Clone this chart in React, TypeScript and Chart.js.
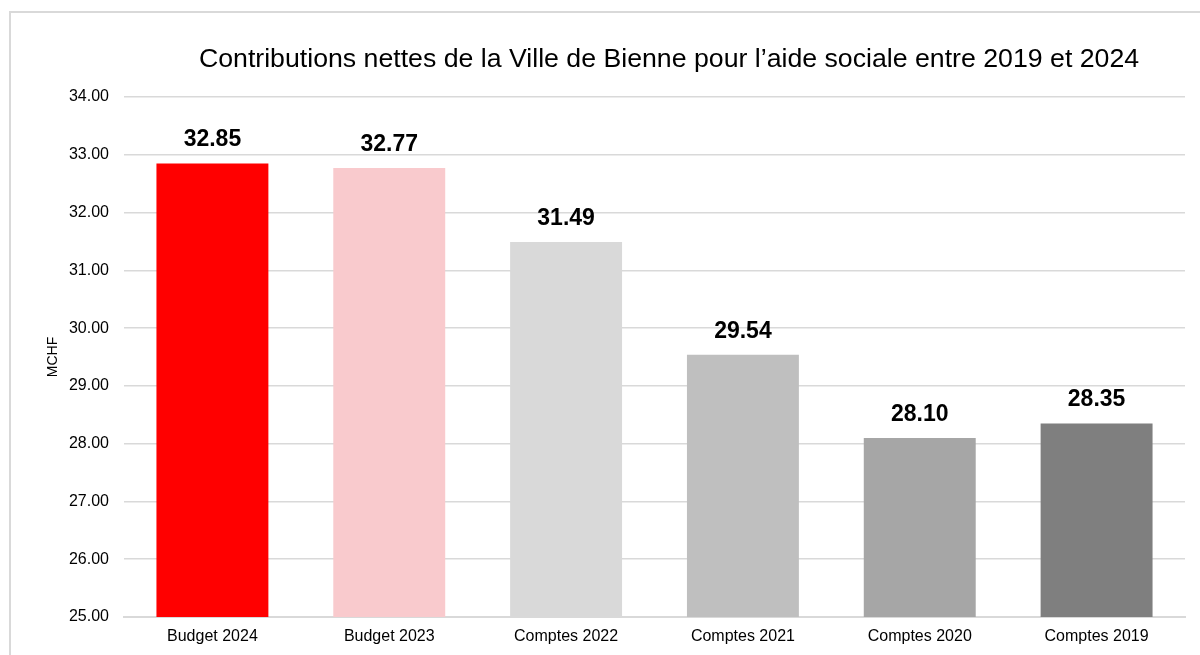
import React, { useEffect, useRef } from "react";
import { Chart, registerables } from "chart.js";

Chart.register(...registerables);

const TITLE = "Contributions nettes de la Ville de Bienne pour l\u2019aide sociale entre 2019 et 2024";
const Y_TITLE = "MCHF";
const categories = ["Budget 2024", "Budget 2023", "Comptes 2022", "Comptes 2021", "Comptes 2020", "Comptes 2019"];
const values = [32.85, 32.77, 31.49, 29.54, 28.1, 28.35];
const barColors = ["#FF0000", "#F9CACD", "#D9D9D9", "#BFBFBF", "#A6A6A6", "#7F7F7F"];
const Y_MIN = 25;
const Y_MAX = 34;
const Y_STEP = 1;

const FONT = "'Liberation Sans', Arial, sans-serif";

const titlePlugin = {
  id: "customTitle",
  afterDraw(chart: any) {
    const ctx = chart.ctx;
    ctx.save();
    ctx.font = `26.7px ${FONT}`;
    ctx.fillStyle = "#000000";
    ctx.textAlign = "center";
    ctx.textBaseline = "alphabetic";
    ctx.fillText(TITLE, 669, 67);
    ctx.restore();
  },
};

const valueLabelPlugin = {
  id: "valueLabels",
  afterDatasetsDraw(chart: any) {
    const ctx = chart.ctx;
    const meta = chart.getDatasetMeta(0);
    ctx.save();
    ctx.font = `bold 23px ${FONT}`;
    ctx.fillStyle = "#000000";
    ctx.textAlign = "center";
    ctx.textBaseline = "alphabetic";
    meta.data.forEach((bar: any, i: number) => {
      ctx.fillText(values[i].toFixed(2), bar.x, bar.y - 17);
    });
    ctx.restore();
  },
};

export default function App() {
  const canvasRef = useRef<HTMLCanvasElement | null>(null);

  useEffect(() => {
    if (!canvasRef.current) return;
    const chart = new Chart(canvasRef.current, {
      type: "bar",
      data: {
        labels: categories,
        datasets: [
          {
            data: values,
            backgroundColor: barColors,
            borderWidth: 0,
            categoryPercentage: 1,
            barPercentage: 0.633,
          },
        ],
      },
      options: {
        responsive: false,
        animation: false,
        layout: { padding: { left: 41, top: 97, right: 15, bottom: 0 } },
        plugins: {
          legend: { display: false },
          title: { display: false },
          tooltip: { enabled: false },
        },
        scales: {
          x: {
            grid: { display: false, drawTicks: false },
            border: { display: true, color: "#D9D9D9", width: 2 },
            ticks: { color: "#000000", font: { family: FONT, size: 16 }, padding: 10, maxRotation: 0 },
            afterFit: (scale: any) => {
              scale.height = 38;
            },
          },
          y: {
            min: Y_MIN,
            max: Y_MAX,
            grid: { color: "#D9D9D9", lineWidth: 1.5, drawTicks: false },
            border: { display: false },
            ticks: {
              stepSize: Y_STEP,
              color: "#000000",
              font: { family: FONT, size: 16 },
              padding: 15,
              callback: (v: any) => Number(v).toFixed(2),
            },
            title: {
              display: true,
              text: Y_TITLE,
              color: "#000000",
              font: { family: FONT, size: 14 },
            },
            afterFit: (scale: any) => {
              scale.width = 83;
            },
          },
        },
      },
      plugins: [titlePlugin, valueLabelPlugin],
    });
    return () => chart.destroy();
  }, []);

  return (
    <div style={{ position: "fixed", left: 0, top: 0, width: 1200, height: 655, overflow: "hidden", background: "#FFFFFF" }}>
      <div
        style={{
          position: "absolute",
          left: 9,
          top: 11,
          width: 1300,
          height: 700,
          border: "2px solid #D9D9D9",
          boxSizing: "border-box",
        }}
      />
      <canvas ref={canvasRef} width={1200} height={655} style={{ position: "absolute", left: 0, top: 0 }} />
    </div>
  );
}
